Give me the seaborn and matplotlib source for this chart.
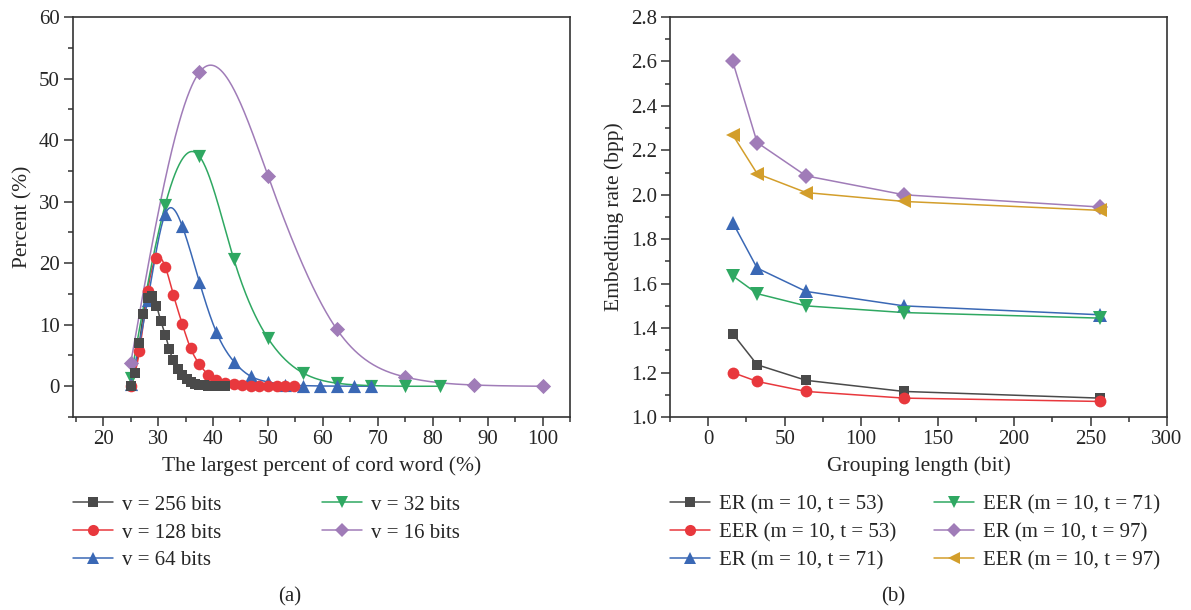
import numpy as np
import pandas as pd
import matplotlib
matplotlib.use("Agg")
import matplotlib.pyplot as plt
from matplotlib.lines import Line2D
from matplotlib.ticker import MultipleLocator, FormatStrFormatter
import seaborn as sb

# ---- panel (a): distribution of the largest percent of cord word ----
V256_X = [25.0, 25.8, 26.6, 27.3, 28.1, 28.9, 29.7, 30.5, 31.3, 32.0, 32.8, 33.6,
          34.4, 35.2, 35.9, 36.7, 37.5, 38.3, 39.1, 39.8, 40.6, 41.4, 42.2]
V256_Y = [0.0, 2.2, 7.0, 11.7, 14.3, 14.6, 13.1, 10.6, 8.4, 6.1, 4.2, 2.8,
          1.8, 1.1, 0.7, 0.4, 0.25, 0.15, 0.08, 0.04, 0.02, 0.01, 0.0]
V128_X = [25.0, 26.6, 28.1, 29.7, 31.3, 32.8, 34.4, 35.9, 37.5, 39.1, 40.6, 42.2,
          43.8, 45.3, 46.9, 48.4, 50.0, 51.6, 53.1, 54.7]
V128_Y = [0.0, 5.7, 15.5, 20.8, 19.4, 14.8, 10.1, 6.2, 3.6, 1.9, 1.0, 0.5,
          0.3, 0.15, 0.08, 0.04, 0.02, 0.01, 0.0, 0.0]
V64_X = [25.0, 28.1, 31.3, 34.4, 37.5, 40.6, 43.8, 46.9, 50.0, 53.1, 56.3, 59.4,
         62.5, 65.6, 68.8]
V64_Y = [0.3, 14.0, 28.0, 26.0, 17.0, 8.8, 4.0, 1.6, 0.7, 0.25, 0.1, 0.04,
         0.02, 0.01, 0.0]
V32_X = [25.0, 31.3, 37.5, 43.8, 50.0, 56.3, 62.5, 68.8, 75.0, 81.3]
V32_Y = [1.3, 29.5, 37.4, 20.6, 7.8, 2.2, 0.5, 0.1, 0.0, 0.0]
V16_X = [25.0, 37.5, 50.0, 62.5, 75.0, 87.5, 100.0]
V16_Y = [3.7, 51.0, 34.2, 9.3, 1.5, 0.2, 0.0]

LEFT_LABELS = ["v = 256 bits", "v = 128 bits", "v = 64 bits", "v = 32 bits", "v = 16 bits"]

# ---- panel (b): embedding rate vs grouping length ----
GROUP_LEN = [16, 32, 64, 128, 256]
ER_53 = [1.375, 1.235, 1.165, 1.115, 1.085]
EER_53 = [1.20, 1.16, 1.115, 1.085, 1.07]
ER_71 = [1.875, 1.67, 1.565, 1.50, 1.46]
EER_71 = [1.635, 1.555, 1.50, 1.47, 1.445]
ER_97 = [2.60, 2.235, 2.085, 2.00, 1.945]
EER_97 = [2.27, 2.095, 2.01, 1.97, 1.93]

RIGHT_LABELS = ["ER (m = 10, t = 53)", "EER (m = 10, t = 53)", "ER (m = 10, t = 71)",
                "EER (m = 10, t = 71)", "ER (m = 10, t = 97)", "EER (m = 10, t = 97)"]

COLORS = ["#4a4a4a", "#e8383d", "#3a68b5", "#2fa862", "#a07cb8", "#d39e2b"]
LEFT_MARKERS = ["s", "o", "^", "v", "D"]
LEFT_SIZES = [55, 70, 90, 90, 60]
RIGHT_MARKERS = ["s", "o", "^", "v", "D", "<"]
RIGHT_MS = [7.5, 8.5, 10, 10, 8, 10]

FS = 15
EDGE = "#333333"


def natural_spline(x, y, n=600):
    # smooth connecting line through the points (like "spline connect")
    x = np.asarray(x, float)
    y = np.asarray(y, float)
    k = len(x)
    h = np.diff(x)
    A = np.zeros((k, k))
    b = np.zeros(k)
    A[0, 0] = A[-1, -1] = 1.0
    for i in range(1, k - 1):
        A[i, i - 1] = h[i - 1]
        A[i, i] = 2 * (h[i - 1] + h[i])
        A[i, i + 1] = h[i]
        b[i] = 6 * ((y[i + 1] - y[i]) / h[i] - (y[i] - y[i - 1]) / h[i - 1])
    M = np.linalg.solve(A, b)
    xs = np.linspace(x[0], x[-1], n)
    idx = np.clip(np.searchsorted(x, xs) - 1, 0, k - 2)
    x0, x1 = x[idx], x[idx + 1]
    hh = x1 - x0
    a = (x1 - xs) / hh
    c = (xs - x0) / hh
    ys = (a * y[idx] + c * y[idx + 1]
          + ((a ** 3 - a) * M[idx] + (c ** 3 - c) * M[idx + 1]) * hh ** 2 / 6)
    return xs, ys


def style_axes(ax):
    for s in ax.spines.values():
        s.set_visible(True)
        s.set_color(EDGE)
        s.set_linewidth(1.2)
    ax.tick_params(which="major", direction="out", length=6.5, width=1.1,
                   color=EDGE, labelsize=FS, bottom=True, left=True,
                   top=False, right=False, pad=3)
    ax.tick_params(which="minor", direction="out", length=3.5, width=1.1,
                   color=EDGE, bottom=True, left=True, top=False, right=False)
    ax.grid(False)


sb.set_style("white")
plt.rcParams["font.family"] = ["Liberation Serif", "DejaVu Serif"]

fig = plt.figure(figsize=(11.91, 6.10), dpi=100)
ax1 = fig.add_axes([73 / 1191, 1 - 417 / 610, 497 / 1191, 400 / 610])
ax2 = fig.add_axes([670 / 1191, 1 - 417 / 610, 497 / 1191, 400 / 610])

# panel (a)
left_series = [(V256_X, V256_Y), (V128_X, V128_Y), (V64_X, V64_Y),
               (V32_X, V32_Y), (V16_X, V16_Y)]
for i, (xv, yv) in enumerate(left_series):
    xs, ys = natural_spline(xv, yv)
    ax1.plot(xs, ys, color=COLORS[i], lw=1.1, zorder=2)
for i, (xv, yv) in enumerate(left_series):
    sb.scatterplot(x=xv, y=yv, ax=ax1, color=COLORS[i], marker=LEFT_MARKERS[i],
                   s=LEFT_SIZES[i], linewidth=0, zorder=3 + (4 - i), legend=False)

ax1.set_xlim(14.5, 105)
ax1.set_ylim(-5, 60)
ax1.set_xticks(range(20, 101, 10))
ax1.xaxis.set_minor_locator(MultipleLocator(5))
ax1.yaxis.set_major_locator(MultipleLocator(10))
ax1.yaxis.set_minor_locator(MultipleLocator(5))
ax1.set_xlabel("The largest percent of cord word (%)", fontsize=FS + 0.5, labelpad=5)
ax1.set_ylabel("Percent (%)", fontsize=FS + 0.5, labelpad=5)
style_axes(ax1)

# panel (b)
rows = []
for lab, vals in zip(RIGHT_LABELS, [ER_53, EER_53, ER_71, EER_71, ER_97, EER_97]):
    for g, v in zip(GROUP_LEN, vals):
        rows.append({"len": g, "rate": v, "series": lab})
df = pd.DataFrame(rows)
for i, lab in enumerate(RIGHT_LABELS):
    sb.lineplot(data=df[df["series"] == lab], x="len", y="rate", ax=ax2,
                color=COLORS[i], marker=RIGHT_MARKERS[i], markersize=RIGHT_MS[i],
                markeredgewidth=0, lw=1.1, legend=False)

ax2.set_xlim(-25, 300)
ax2.set_ylim(1.0, 2.8)
ax2.set_xticks(range(0, 301, 50))
ax2.xaxis.set_minor_locator(MultipleLocator(25))
ax2.yaxis.set_major_locator(MultipleLocator(0.2))
ax2.yaxis.set_minor_locator(MultipleLocator(0.1))
ax2.yaxis.set_major_formatter(FormatStrFormatter("%.1f"))
ax2.set_xlabel("Grouping length (bit)", fontsize=FS + 0.5, labelpad=5)
ax2.set_ylabel("Embedding rate (bpp)", fontsize=FS + 0.5, labelpad=5)
style_axes(ax2)


# legends below each panel, two columns each
def handle(i, markers, ms):
    return Line2D([], [], color=COLORS[i], marker=markers[i], markersize=ms,
                  markeredgewidth=0, lw=1.1)


leg_kw = dict(frameon=False, fontsize=FS, handlelength=1.9, handletextpad=0.45,
              labelspacing=0.4, borderpad=0, borderaxespad=0, loc="upper left")
top = 1 - 495 / 610

lm = [7, 8, 9, 9, 7.5]
fig.legend([handle(i, LEFT_MARKERS, lm[i]) for i in range(3)], LEFT_LABELS[:3],
           bbox_to_anchor=(73 / 1191, top), **leg_kw)
fig.legend([handle(i, LEFT_MARKERS, lm[i]) for i in range(3, 5)], LEFT_LABELS[3:],
           bbox_to_anchor=(322 / 1191, top), **leg_kw)
rm = [7, 8, 9, 9, 7.5, 9]
fig.legend([handle(i, RIGHT_MARKERS, rm[i]) for i in range(3)], RIGHT_LABELS[:3],
           bbox_to_anchor=(670 / 1191, top), **leg_kw)
fig.legend([handle(i, RIGHT_MARKERS, rm[i]) for i in range(3, 6)], RIGHT_LABELS[3:],
           bbox_to_anchor=(934 / 1191, top), **leg_kw)

fig.text(290 / 1191, 1 - 597 / 610, "(a)", ha="center", va="center", fontsize=FS)
fig.text(893 / 1191, 1 - 597 / 610, "(b)", ha="center", va="center", fontsize=FS)

fig.savefig("out.png", dpi=100)
